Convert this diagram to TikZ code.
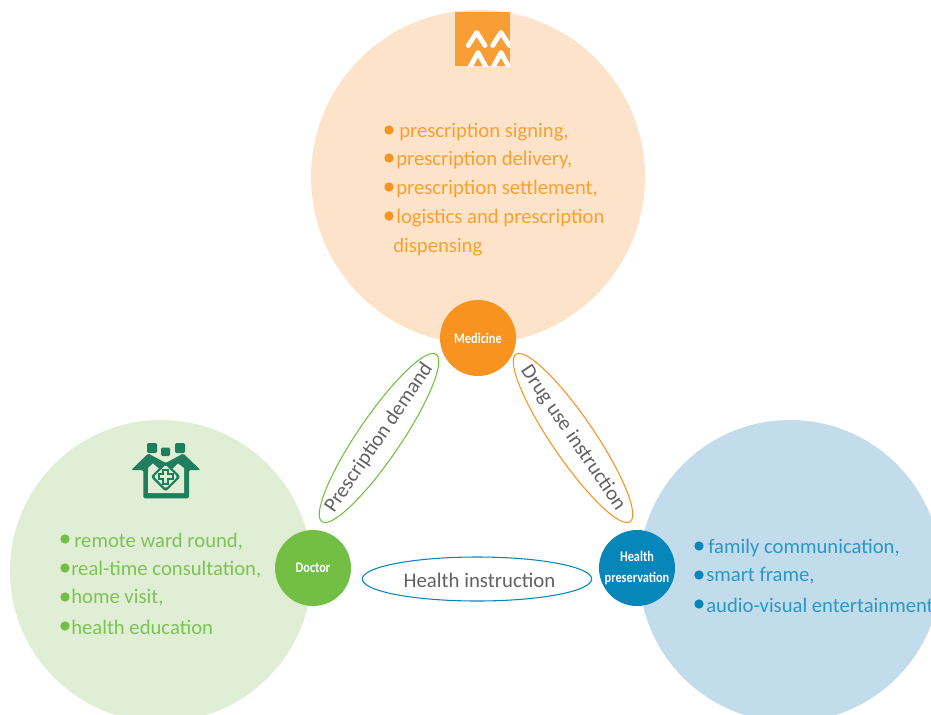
\documentclass[tikz,border=0pt]{standalone}
\usepackage{fontspec}
\setmainfont{Carlito}
\newfontfamily\hubfont[FakeStretch=0.84]{Carlito}
\usepackage{tikz}
\usetikzlibrary{positioning, shapes.geometric}
\definecolor{medlight}{HTML}{FDE3C9}
\definecolor{medmain}{HTML}{F7931E}
\definecolor{medtext}{HTML}{F9A033}
\definecolor{doclight}{HTML}{E0EED6}
\definecolor{docmain}{HTML}{72BF44}
\definecolor{doctext}{HTML}{7CC355}
\definecolor{hlthlight}{HTML}{C3DCEC}
\definecolor{hlthmain}{HTML}{0786B9}
\definecolor{hlthtext}{HTML}{2A98C4}
\definecolor{icongreen}{HTML}{1F7F5C}
\tikzstyle{bigc}=[inner sep=0pt, shape=circle, draw=none]
\tikzstyle{hub}=[inner sep=0pt, shape=circle, minimum size=57pt, text=white, align=center, font=\hubfont\fontsize{11}{15.5}\selectfont\bfseries]
\tikzstyle{pill}=[inner sep=0pt, shape=ellipse, line width=0.8pt]
\tikzstyle{pilltext}=[inner sep=0pt, text=black!62, font=\fontsize{15.6}{20}\selectfont]
\tikzstyle{item}=[inner sep=0pt, anchor=west, font=\fontsize{15.5}{20}\selectfont]
\tikzstyle{dot}=[inner sep=0pt, shape=circle, minimum size=7pt]
\tikzstyle{chev}=[white, line width=3.6pt, line cap=round, line join=round]
\begin{document}
\begin{tikzpicture}[x=0.75pt, y=-0.75pt]
\useasboundingbox (0,0) rectangle (931,714);
\clip (0,0) rectangle (931,714);
% the three large circles
\node[bigc, fill=medlight, minimum size=250.5pt] (MedBig) at (478,177) {};
\node[bigc, fill=doclight, minimum size=226.5pt] (DocBig) at (161,571) {};
\node[bigc, fill=hlthlight, minimum size=226.5pt] (HlthBig) at (790,571) {};
% the three small circles
\node[hub, fill=medmain] (Med) at (478,338) {Medicine};
\node[hub, fill=docmain] (Doc) at (313,568) {Doctor};
\node[hub, fill=hlthmain] (Hlth) at (637,568) {Health\\preservation};
% the ellipses between them
\node[pill, draw=docmain, rotate=55.7, minimum width=152pt, minimum height=32pt] (PD) at (379,438) {};
\node[pill, draw=medmain, rotate=-55.7, minimum width=152pt, minimum height=32pt] (DU) at (573,438) {};
\node[pill, draw=hlthmain, minimum width=172pt, minimum height=33pt] (HI) at (477,579) {};
\node[pilltext, rotate=55.7] (PDT) at (PD) {Prescription demand};
\node[pilltext, rotate=-55.7] (DUT) at (DU) {Drug use instruction};
\node[pilltext] (HIT) at (479.5,580) {Health instruction};
% medicine list
\node[dot, fill=medmain] (M0) at (389,130) {};
\node[dot, fill=medmain] (M1) at (389,158) {};
\node[dot, fill=medmain] (M2) at (389,187) {};
\node[dot, fill=medmain] (M3) at (389,216) {};
\node[item, text=medtext] (MT0) at (399,132) {prescription signing,};
\node[item, text=medtext] (MT1) at (396,160) {prescription delivery,};
\node[item, text=medtext] (MT2) at (396,189) {prescription settlement,};
\node[item, text=medtext] (MT3) at (396,218) {logistics and prescription};
\node[item, text=medtext] (MT4) at (393,247) {dispensing};
% doctor list
\node[dot, fill=docmain] (D0) at (65,539) {};
\node[dot, fill=docmain] (D1) at (65,568) {};
\node[dot, fill=docmain] (D2) at (65,597) {};
\node[dot, fill=docmain] (D3) at (65,626) {};
\node[item, text=doctext] (DT0) at (74,542) {remote ward round,};
\node[item, text=doctext] (DT1) at (71,570) {real-time consultation,};
\node[item, text=doctext] (DT2) at (71,598) {home visit,};
\node[item, text=doctext] (DT3) at (71,627) {health education};
% health list
\node[dot, fill=hlthmain] (H0) at (699,546) {};
\node[dot, fill=hlthmain] (H1) at (699,575) {};
\node[dot, fill=hlthmain] (H2) at (699,604) {};
\node[item, text=hlthtext] (HT0) at (708,548) {family communication,};
\node[item, text=hlthtext] (HT1) at (706,576) {smart frame,};
\node[item, text=hlthtext] (HT2) at (706,605) {audio-visual entertainment};
% the medicine icon
\fill[medmain!90!white] (455,12) rectangle (510,66);
\begin{scope}
\clip (455,12) rectangle (510,66);
\draw[chev] (468.3,45.5) -- (476.7,32.5) -- (485,45.5);
\draw[chev] (492.7,45.5) -- (501,32.5) -- (509.5,45.5);
\draw[chev] (469.5,68) -- (478,52.5) -- (486.5,68);
\draw[chev] (492.7,68) -- (501,52.5) -- (509.5,68);
\end{scope}
% the doctor icon
\fill[icongreen, rounded corners=1pt] (147,443) rectangle (157,453);
\fill[icongreen, rounded corners=1pt] (161,447.5) rectangle (170,456);
\fill[icongreen, rounded corners=1pt] (175,443) rectangle (185,453);
\fill[icongreen, rounded corners=1pt] (143.3,470) -- (143.3,498.3) -- (189,498.3) -- (189,470) -- (200.5,470) -- (183.3,453.5) -- (165.7,463) -- (148.3,453.5) -- (131.2,470) -- cycle;
\fill[doclight] (148,493) -- (184,493) -- (184,468) -- (178,463.5) -- (166,475) -- (153,463.5) -- (148,468) -- cycle;
\fill[icongreen, rounded corners=2pt] (165.7,461.7) -- (180.7,476.7) -- (165.7,491.7) -- (150.7,476.7) -- cycle;
\fill[doclight, rounded corners=1pt] (165.7,465) -- (177.4,476.7) -- (165.7,488.4) -- (154,476.7) -- cycle;
\fill[icongreen] (162.2,468.5) rectangle (169.2,484.9);
\fill[icongreen] (157.5,473.2) rectangle (173.9,480.2);
\fill[doclight] (164.4,470.5) rectangle (167,482.9);
\fill[doclight] (159.5,475.4) rectangle (171.9,478);
\end{tikzpicture}
\end{document}
